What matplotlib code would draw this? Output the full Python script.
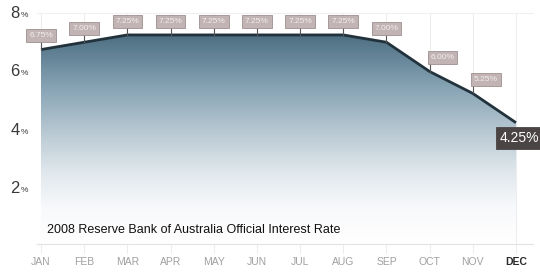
import numpy as np
import matplotlib
matplotlib.use("Agg")
import matplotlib.pyplot as plt
from matplotlib.colors import LinearSegmentedColormap
from matplotlib.patches import Polygon

months = ["JAN", "FEB", "MAR", "APR", "MAY", "JUN", "JUL", "AUG", "SEP", "OCT", "NOV", "DEC"]
rates = [6.75, 7.00, 7.25, 7.25, 7.25, 7.25, 7.25, 7.25, 7.00, 6.00, 5.25, 4.25]
yticks = [2, 4, 6, 8]
title = "2008 Reserve Bank of Australia Official Interest Rate"

FONT = ["Liberation Sans Narrow", "Liberation Sans", "DejaVu Sans"]

fig = plt.figure(figsize=(5.4, 2.75), dpi=100)
ax = fig.add_axes([0, 0, 1, 1])
ax.set_axis_off()

px_x = 475 / 11.0
px_y = 29.25
ax.set_xlim(-41 / px_x, (540 - 41) / px_x)
ax.set_ylim(-(275 - 247) / px_y, 247 / px_y)

x = np.arange(len(months))
y = np.array(rates)

# faint grid
for xi in x:
    ax.plot([xi, xi], [-0.2, 8.0], color="#ededed", lw=0.8, zorder=0)
ax.plot([x[0] - 0.1, x[-1] + 0.4], [0.1, 0.1], color="#e2e2e2", lw=0.8, zorder=0)
ax.plot([x[0] - 0.1, x[-1] + 0.4], [8.0, 8.0], color="#f0f0f0", lw=0.8, zorder=0)

# gradient area
verts = [(x[0], 0.1)] + list(zip(x, y)) + [(x[-1], 0.1)]
poly = Polygon(verts, closed=True, facecolor="none", edgecolor="none")
ax.add_patch(poly)
cmap = LinearSegmentedColormap.from_list(
    "g", [(0.0, "#ffffff"), (0.17, "#f8f9fb"), (0.33, "#e2e9ee"), (0.54, "#b6c7d1"),
          (0.75, "#85a2b3"), (1.0, "#4b6c80")])
grad = np.linspace(0, 1, 256).reshape(-1, 1)
im = ax.imshow(grad, cmap=cmap, origin="lower", aspect="auto",
               extent=[x[0], x[-1], 0.1, 7.3], zorder=1)
im.set_clip_path(poly)

ax.plot(x, y, color="#22323c", lw=2.0, zorder=3, solid_capstyle="butt")

# value labels
offsets = {9: 0.3, 10: 0.3}
for i, (xi, yi) in enumerate(zip(x, y)):
    if i == len(x) - 1:
        continue
    dx = offsets.get(i, 0.0)
    ax.plot([xi, xi], [yi, yi + 0.25], color="#555555", lw=0.8, zorder=4)
    ax.text(xi + dx, yi + 0.47, f"{yi:.2f}%", ha="center", va="center", fontsize=6,
            color="#f4eeee", family=FONT, zorder=5,
            bbox=dict(boxstyle="square,pad=0.35", fc="#c2b4b4", ec="#9d8f8f", lw=0.6))

# last label
ax.text(x[-1] + 0.08, y[-1] - 0.52, f"{y[-1]:.2f}%", ha="center", va="center", fontsize=10,
        color="white", family=FONT, zorder=6,
        bbox=dict(boxstyle="square,pad=0.3", fc="#4a4444", ec="#4a4444", lw=0.6))

# y tick labels
for t in yticks:
    ax.text(-0.49, t, f"{t}", ha="right", va="center", fontsize=12, color="#3a3a3a", family=FONT)
    ax.text(-0.48, t - 0.08, "%", ha="left", va="center", fontsize=6, color="#3a3a3a", family=FONT)

# month labels
for xi, m in zip(x, months):
    last = m == months[-1]
    ax.text(xi, -0.5, m, ha="center", va="center", fontsize=7.5,
            color="#2a2a2a" if last else "#a0a0a0",
            fontweight="bold" if last else "normal", family=FONT)

ax.text(0.13, 0.59, title, ha="left", va="center", fontsize=9, color="#111111", family=FONT)

fig.savefig("out.png", dpi=100)
